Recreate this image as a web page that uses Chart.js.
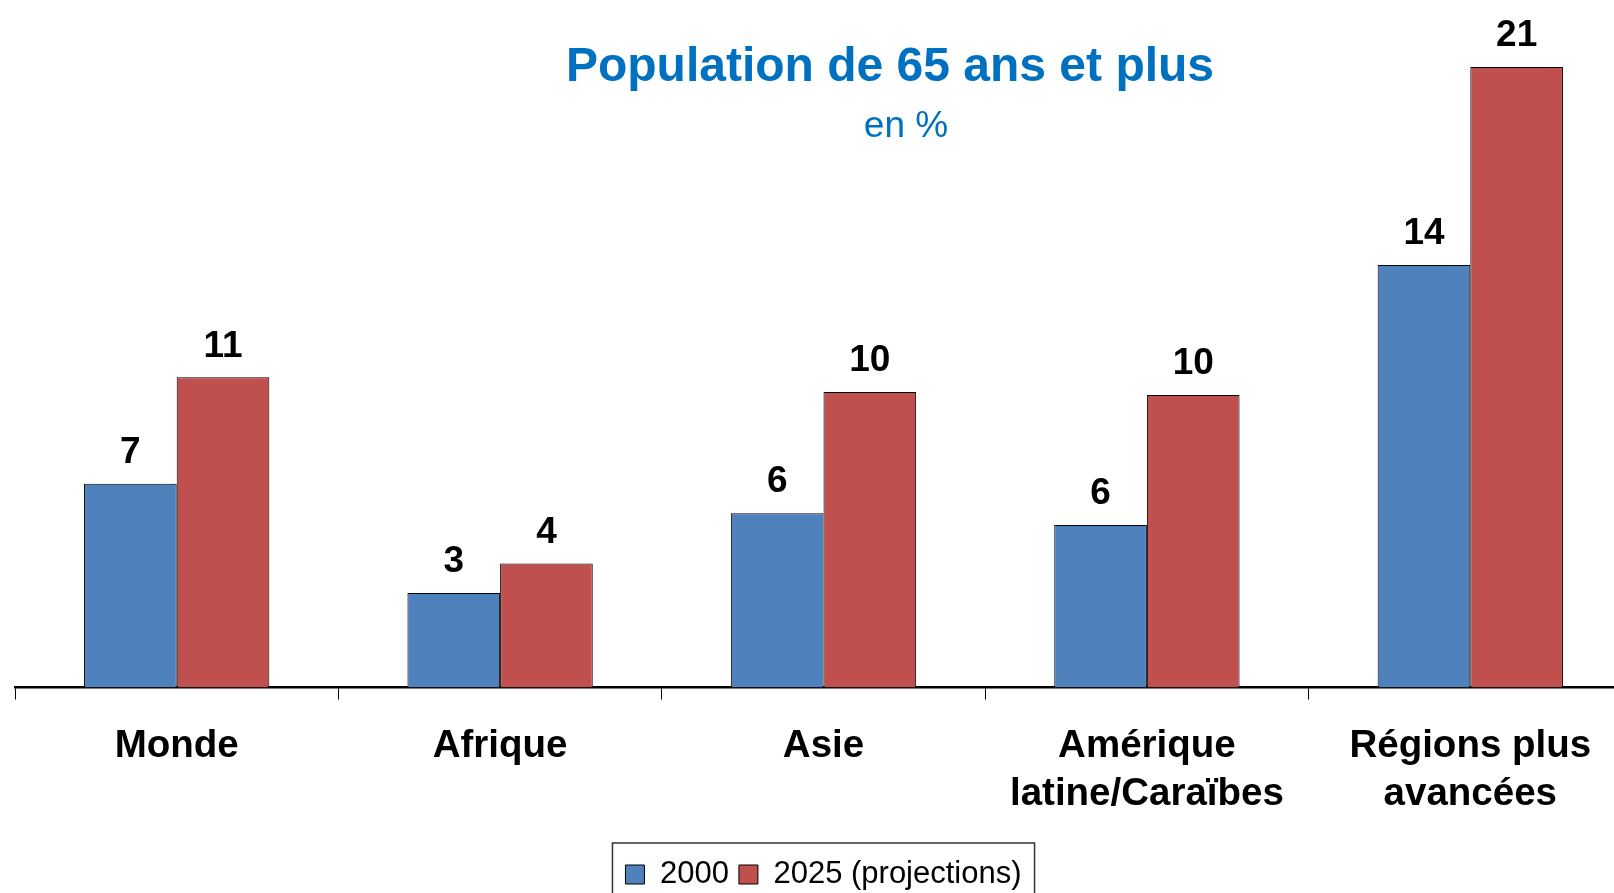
<!DOCTYPE html>
<html>
<head>
<meta charset="utf-8">
<script src="https://cdn.jsdelivr.net/npm/chart.js@4.4.1/dist/chart.umd.min.js"></script>
<style>
  html, body { margin: 0; padding: 0; background: #fff; overflow: hidden; }
  #wrap { position: relative; width: 1632px; height: 900px; }
</style>
</head>
<body>
<div id="wrap"><canvas id="popChart"></canvas></div>
<script>
// regions (x axis), each label may span two lines
const categories = [
  'Monde',
  'Afrique',
  'Asie',
  ['Amérique', 'latine/Caraïbes'],
  ['Régions plus', 'avancées']
];
const seriesNames = ['2000', '2025 (projections)'];
const values2000 = [6.9, 3.2, 5.9, 5.5, 14.3];
const values2025 = [10.5, 4.2, 10.0, 9.9, 21.0];

const titleText = 'Population de 65 ans et plus';
const subtitleText = 'en %';

const FONT = "'Liberation Sans', Arial, sans-serif";

// title drawn over the plot, like the original
const overlayTitle = {
  id: 'overlayTitle',
  afterDraw(chart) {
    const ctx = chart.ctx;
    ctx.save();
    ctx.fillStyle = '#0070C0';
    ctx.textAlign = 'center';
    ctx.textBaseline = 'middle';
    ctx.font = 'bold 48px ' + FONT;
    ctx.fillText(titleText, 890, 68);
    ctx.font = '37px ' + FONT;
    ctx.fillText(subtitleText, 906, 127);
    ctx.restore();
  }
};

// rounded values above each bar
const valueLabels = {
  id: 'valueLabels',
  afterDatasetsDraw(chart) {
    const ctx = chart.ctx;
    ctx.save();
    ctx.fillStyle = '#000';
    ctx.textAlign = 'center';
    ctx.textBaseline = 'middle';
    ctx.font = 'bold 37px ' + FONT;
    chart.data.datasets.forEach((ds, i) => {
      chart.getDatasetMeta(i).data.forEach((bar, j) => {
        ctx.fillText(String(Math.round(ds.data[j])), bar.x, bar.y - 31);
      });
    });
    ctx.restore();
  }
};

// frame round the legend
const legendFrame = {
  id: 'legendFrame',
  afterDraw(chart) {
    const boxes = chart.legend && chart.legend.legendHitBoxes;
    if (!boxes || !boxes.length) return;
    const left = Math.min(...boxes.map(b => b.left)) - 13;
    const right = Math.max(...boxes.map(b => b.left + b.width)) + 13;
    const top = Math.min(...boxes.map(b => b.top)) - 16;
    const ctx = chart.ctx;
    ctx.save();
    ctx.strokeStyle = '#333';
    ctx.lineWidth = 1.5;
    ctx.strokeRect(left, top, right - left, 80);
    ctx.restore();
  }
};

new Chart(document.getElementById('popChart'), {
  type: 'bar',
  data: {
    labels: categories,
    datasets: [
      {
        label: seriesNames[0],
        data: values2000,
        backgroundColor: '#4F81BD',
        borderColor: '#000',
        borderWidth: 1,
        categoryPercentage: 0.573,
        barPercentage: 1.0
      },
      {
        label: seriesNames[1],
        data: values2025,
        backgroundColor: '#C0504D',
        borderColor: '#000',
        borderWidth: 1,
        categoryPercentage: 0.573,
        barPercentage: 1.0
      }
    ]
  },
  options: {
    responsive: true,
    maintainAspectRatio: false,
    animation: false,
    layout: { padding: { left: 15, right: 0, top: 8, bottom: 0 } },
    plugins: {
      title: { display: false },
      tooltip: { enabled: false },
      legend: {
        position: 'bottom',
        labels: {
          color: '#000',
          font: { family: FONT, size: 31 },
          boxWidth: 19,
          boxHeight: 19,
          padding: 10
        }
      }
    },
    scales: {
      x: {
        grid: {
          display: true,
          drawOnChartArea: false,
          drawTicks: true,
          tickLength: 12,
          color: '#000',
          lineWidth: 1
        },
        border: { display: true, color: '#000', width: 2.5 },
        ticks: {
          color: '#000',
          padding: 23,
          maxRotation: 0,
          autoSkip: false,
          font: { family: FONT, size: 38.5, weight: 'bold', lineHeight: 1.24 }
        },
        afterFit(scale) {
          scale.height += 8;
        }
      },
      y: {
        display: false,
        min: 0,
        max: 23
      }
    }
  },
  plugins: [overlayTitle, valueLabels, legendFrame]
});
</script>
</body>
</html>
